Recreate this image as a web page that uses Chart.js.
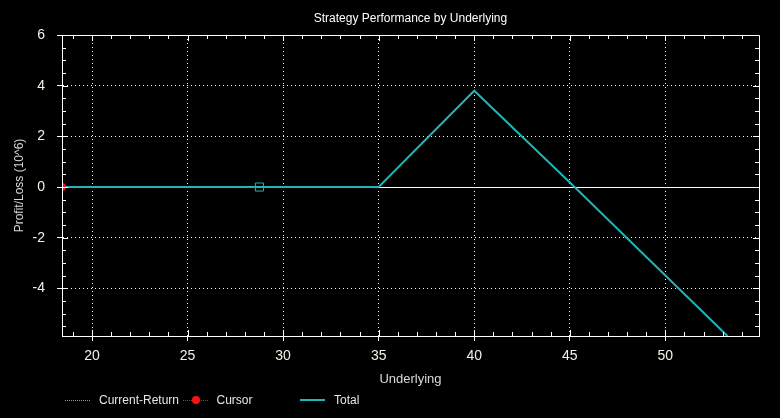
<!DOCTYPE html>
<html>
<head>
<meta charset="utf-8">
<script src="https://cdn.jsdelivr.net/npm/chart.js@4"></script>
<style>
  body { margin: 0; background: #000; }
  #wrap { position: relative; width: 780px; height: 418px; background: #000; font-family: "Liberation Sans", Arial, sans-serif; }
  #title { position: absolute; left: 62px; width: 697px; top: 11px; text-align: center; color: #fff; font-size: 12px; line-height: 14px; }
  #legend { position: absolute; left: 65px; top: 392px; height: 16px; display: flex; }
  .item { width: 117.5px; display: flex; align-items: center; height: 16px; }
  .sample { position: relative; width: 25px; height: 16px; margin-right: 9px; }
  .sample .ln { position: absolute; left: 0; right: 0; top: 8px; }
  .sample .dot { position: absolute; left: 9px; top: 4px; width: 8px; height: 8px; border-radius: 50%; }
  .item span.txt { color: #e6e6e6; font-size: 12px; white-space: nowrap; }
</style>
</head>
<body>
<div id="wrap">
  <canvas id="chart" width="780" height="418"></canvas>
  <div id="title">Strategy Performance by Underlying</div>
  <div id="legend"></div>
</div>
<script>
// payoff curve (underlying price vs profit/loss in 10^6)
var underlying = [18.43, 35, 40, 45.25, 53.25];
var total = [0, 0, 3.8, 0, -5.88];

// cursor point and current marker
var cursorX = [18.43];
var cursorY = [0];
var markX = [28.76];
var markY = [0];

// current return series (nothing visible in the plot)
var currentX = [];
var currentY = [];

var xMin = 18.43, xMax = 54.9, xStep = 5;
var yMin = -5.88, yMax = 6, yStep = 2;

var labelColor = '#f4f1e4';
var totalColor = '#1fb4b8';

function points(xs, ys) {
  return xs.map(function (x, i) { return { x: x, y: ys[i] }; });
}

// inner tick marks on all four sides plus the top/right frame
var frameTicks = {
  id: 'frameTicks',
  afterDatasetsDraw: function (chart) {
    var ctx = chart.ctx, a = chart.chartArea;
    var xs = chart.scales.x, ys = chart.scales.y;
    var v, p, len;
    ctx.save();
    ctx.strokeStyle = '#fff';
    ctx.lineWidth = 1;
    ctx.beginPath();
    ctx.rect(Math.round(a.left) + 0.5, Math.round(a.top) + 0.5,
      Math.round(a.right - a.left), Math.round(a.bottom - a.top));
    for (v = Math.ceil(xs.min); v <= xs.max; v += 1) {
      p = Math.round(xs.getPixelForValue(v)) + 0.5;
      len = v % xStep === 0 ? 6 : 4;
      ctx.moveTo(p, a.bottom); ctx.lineTo(p, a.bottom - len);
      ctx.moveTo(p, a.top); ctx.lineTo(p, a.top + len);
    }
    for (v = Math.ceil(ys.min * 2) / 2; v <= ys.max; v += 0.5) {
      p = Math.round(ys.getPixelForValue(v)) + 0.5;
      len = v % yStep === 0 ? 6 : 4;
      ctx.moveTo(a.left, p); ctx.lineTo(a.left + len, p);
      ctx.moveTo(a.right, p); ctx.lineTo(a.right - len, p);
    }
    ctx.stroke();
    ctx.restore();
  }
};

var gridDash = function (c) {
  return c.tick && c.tick.value === 0 ? [] : [1, 3];
};

var chart = new Chart(document.getElementById('chart'), {
  type: 'line',
  data: {
    datasets: [
      {
        label: 'Current-Return',
        data: points(currentX, currentY),
        borderColor: '#f07a5a',
        borderWidth: 1,
        borderDash: [1, 2],
        pointRadius: 0,
        legendSample: 'dotted'
      },
      {
        label: 'Cursor',
        data: points(cursorX, cursorY),
        borderColor: '#ff1010',
        backgroundColor: '#ff1010',
        showLine: false,
        pointRadius: 4,
        pointBorderWidth: 0,
        clip: 0,
        legendSample: 'dot'
      },
      {
        label: 'Total',
        data: points(underlying, total),
        borderColor: totalColor,
        borderWidth: 2,
        pointRadius: 0,
        tension: 0,
        legendSample: 'solid'
      },
      {
        label: 'marker',
        data: points(markX, markY),
        borderColor: totalColor,
        backgroundColor: 'rgba(0,0,0,0)',
        showLine: false,
        pointStyle: 'rect',
        pointRadius: 5.7,
        pointBorderWidth: 1
      }
    ]
  },
  options: {
    responsive: false,
    animation: false,
    layout: { padding: { top: 35, right: 21, left: 0, bottom: 27 } },
    plugins: {
      legend: { display: false },
      title: { display: false },
      tooltip: { enabled: false }
    },
    scales: {
      x: {
        type: 'linear',
        min: xMin,
        max: xMax,
        afterFit: function (s) { s.height = 55; },
        ticks: {
          stepSize: xStep,
          includeBounds: false,
          maxRotation: 0,
          padding: 7,
          color: labelColor,
          font: { family: 'Liberation Sans', size: 14 }
        },
        grid: { color: '#fff', lineWidth: 1, tickLength: 5, tickColor: '#fff' },
        border: { color: '#fff', width: 1, dash: gridDash },
        title: {
          display: true,
          text: 'Underlying',
          color: '#d8d8d8',
          padding: { top: 0, bottom: 4 },
          font: { family: 'Liberation Sans', size: 13 }
        }
      },
      y: {
        min: yMin,
        max: yMax,
        afterFit: function (s) { s.width = 62; },
        ticks: {
          stepSize: yStep,
          includeBounds: false,
          padding: 12,
          color: labelColor,
          font: { family: 'Liberation Sans', size: 14 }
        },
        grid: { color: '#fff', lineWidth: 1, tickLength: 5, tickColor: '#fff' },
        border: { color: '#fff', width: 1, dash: gridDash },
        title: {
          display: true,
          text: 'Profit/Loss (10^6)',
          color: '#d8d8d8',
          padding: { top: 12, bottom: 0 },
          font: { family: 'Liberation Sans', size: 12 }
        }
      }
    }
  },
  plugins: [frameTicks]
});

// legend in fixed-width columns, built from the datasets
var legendEl = document.getElementById('legend');
chart.data.datasets.forEach(function (ds) {
  if (!ds.legendSample) return;
  var item = document.createElement('div');
  item.className = 'item';
  var sample = document.createElement('div');
  sample.className = 'sample';
  var ln = document.createElement('div');
  ln.className = 'ln';
  if (ds.legendSample === 'solid') {
    ln.style.borderTop = '2px solid ' + ds.borderColor;
    ln.style.top = '7px';
  } else {
    ln.style.borderTop = '1px dotted ' + ds.borderColor;
  }
  sample.appendChild(ln);
  if (ds.legendSample === 'dot') {
    var dot = document.createElement('div');
    dot.className = 'dot';
    dot.style.background = ds.backgroundColor;
    sample.appendChild(dot);
  }
  var txt = document.createElement('span');
  txt.className = 'txt';
  txt.textContent = ds.label;
  item.appendChild(sample);
  item.appendChild(txt);
  legendEl.appendChild(item);
});
</script>
</body>
</html>
